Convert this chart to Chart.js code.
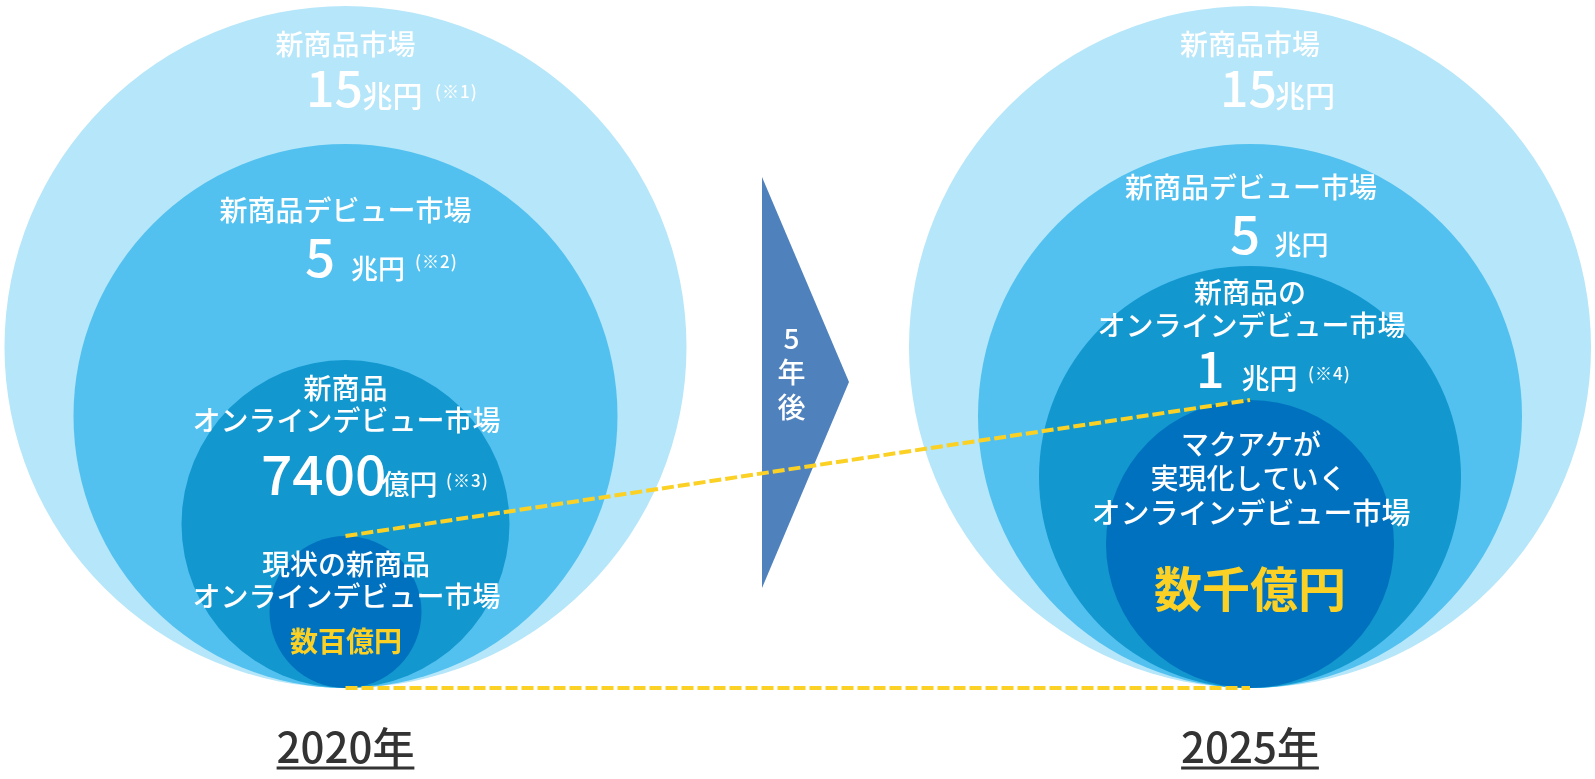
<!DOCTYPE html>
<html>
<head>
<meta charset="utf-8">
<script src="https://cdn.jsdelivr.net/npm/chart.js@4/dist/chart.umd.min.js"></script>
<style>
  html, body { margin: 0; padding: 0; background: #ffffff; }
  canvas { display: block; }
</style>
</head>
<body>
<canvas id="market" width="1595" height="779"></canvas>
<script>
// market rings, outermost first
const years = ['2020年', '2025年'];
const ringNames = ['新商品市場', '新商品デビュー市場', 'オンラインデビュー市場', '現状の市場'];
const radius2020 = [341, 272, 164, 76];
const radius2025 = [341, 272, 211, 144];
const ringColors = ['#b6e6f9', '#52c1ef', '#1297cf', '#0071bf'];

const YEAR_X = [345.5, 1250];
const BASE_Y = 688;
const YELLOW = '#fbd126';
const FONT = '"Noto Sans CJK JP", "Noto Sans", sans-serif';

// lower order is painted later, so the inner rings get the small numbers
const ringDatasets = ringNames.map((name, i) => ({
  type: 'bubble',
  label: name,
  order: ringNames.length - i,
  clip: false,
  data: [
    { x: YEAR_X[0], y: BASE_Y - radius2020[i], r: radius2020[i] },
    { x: YEAR_X[1], y: BASE_Y - radius2025[i], r: radius2025[i] }
  ],
  backgroundColor: ringColors[i],
  borderWidth: 0,
  hoverRadius: 0
}));

// dashed connectors between the innermost rings (top and bottom)
const inner = ringNames.length - 1;
const dashTop = [
  { x: YEAR_X[0], y: BASE_Y - 2 * radius2020[inner] },
  { x: YEAR_X[1], y: BASE_Y - 2 * radius2025[inner] }
];
const dashBottom = [
  { x: YEAR_X[0], y: BASE_Y },
  { x: YEAR_X[1], y: BASE_Y }
];

function dashLine(data) {
  return {
    type: 'line',
    order: 0,
    clip: false,
    data: data,
    borderColor: YELLOW,
    borderWidth: 4,
    borderDash: [12, 4],
    borderCapStyle: 'butt',
    pointRadius: 0,
    fill: false
  };
}

const W = '#ffffff';
const labels = [
  // 2020
  { t: '新商品市場', x: 345.5, y: 44.5, s: 28 },
  { t: '15', x: 306, y: 107, s: 50, a: 'left', b: 'alphabetic' },
  { t: '兆円', x: 362.5, y: 107, s: 30, a: 'left', b: 'alphabetic' },
  { t: '(※1)', x: 435, y: 91.5, s: 17, a: 'left', ls: '1px' },
  { t: '新商品デビュー市場', x: 345.5, y: 210, s: 28 },
  { t: '5', x: 305, y: 277, s: 53, a: 'left', b: 'alphabetic' },
  { t: '兆円', x: 351, y: 278.5, s: 27, a: 'left', b: 'alphabetic' },
  { t: '(※2)', x: 415, y: 262, s: 17, a: 'left', ls: '1px' },
  { t: '新商品', x: 345.5, y: 388, s: 28 },
  { t: 'オンラインデビュー市場', x: 346.5, y: 420, s: 28 },
  { t: '7400', x: 261, y: 495, s: 55, a: 'left', b: 'alphabetic' },
  { t: '億円', x: 381.5, y: 495, s: 28, a: 'left', b: 'alphabetic' },
  { t: '(※3)', x: 446, y: 480.5, s: 17, a: 'left', ls: '1px' },
  { t: '現状の新商品', x: 346, y: 564, s: 28 },
  { t: 'オンラインデビュー市場', x: 346.5, y: 596, s: 28 },
  { t: '数百億円', x: 346, y: 641, s: 28, w: 'bold', c: YELLOW },
  // 2025
  { t: '新商品市場', x: 1250, y: 44.5, s: 28 },
  { t: '15', x: 1220, y: 107, s: 50, a: 'left', b: 'alphabetic' },
  { t: '兆円', x: 1275, y: 107, s: 30, a: 'left', b: 'alphabetic' },
  { t: '新商品デビュー市場', x: 1251, y: 187.5, s: 28 },
  { t: '5', x: 1230, y: 254, s: 53, a: 'left', b: 'alphabetic' },
  { t: '兆円', x: 1274.5, y: 255, s: 27, a: 'left', b: 'alphabetic' },
  { t: '新商品の', x: 1250, y: 292, s: 28 },
  { t: 'オンラインデビュー市場', x: 1251.5, y: 325, s: 28 },
  { t: '1', x: 1196, y: 387.5, s: 50, a: 'left', b: 'alphabetic' },
  { t: '兆円', x: 1241.5, y: 389, s: 28, a: 'left', b: 'alphabetic' },
  { t: '(※4)', x: 1308, y: 374, s: 17, a: 'left', ls: '1px' },
  { t: 'マクアケが', x: 1251, y: 444.5, s: 28 },
  { t: '実現化していく', x: 1248.5, y: 478, s: 28 },
  { t: 'オンラインデビュー市場', x: 1251, y: 513, s: 29 },
  { t: '数千億円', x: 1250, y: 589, s: 48, w: 'bold', c: YELLOW },
  // arrow
  { t: '5', x: 791.5, y: 338, s: 28 },
  { t: '年', x: 791.5, y: 372, s: 28 },
  { t: '後', x: 791.5, y: 407, s: 28 }
];

const overlay = {
  id: 'overlay',
  beforeDatasetsDraw(chart) {
    const { ctx, scales: { x, y } } = chart;
    // "5年後" arrow
    ctx.save();
    ctx.fillStyle = '#4f81bd';
    ctx.beginPath();
    ctx.moveTo(x.getPixelForValue(762), y.getPixelForValue(177));
    ctx.lineTo(x.getPixelForValue(849), y.getPixelForValue(382));
    ctx.lineTo(x.getPixelForValue(762), y.getPixelForValue(588));
    ctx.closePath();
    ctx.fill();
    ctx.restore();
  },
  afterDatasetsDraw(chart) {
    const { ctx, scales: { x, y } } = chart;
    ctx.save();
    labels.forEach(l => {
      ctx.font = `${l.w || '500'} ${l.s}px ${FONT}`;
      ctx.fillStyle = l.c || W;
      ctx.textAlign = l.a || 'center';
      ctx.textBaseline = l.b || 'middle';
      ctx.letterSpacing = l.ls || '0px';
      ctx.fillText(l.t, x.getPixelForValue(l.x), y.getPixelForValue(l.y));
    });
    ctx.letterSpacing = '0px';

    // year captions, underlined
    ctx.font = `500 42px ${FONT}`;
    ctx.fillStyle = '#333333';
    ctx.strokeStyle = '#333333';
    ctx.textAlign = 'center';
    ctx.textBaseline = 'alphabetic';
    years.forEach((yr, i) => {
      const px = x.getPixelForValue(YEAR_X[i]);
      const py = y.getPixelForValue(763);
      ctx.fillText(yr, px, py);
      const wdt = ctx.measureText(yr).width;
      ctx.lineWidth = 3;
      ctx.beginPath();
      ctx.moveTo(px - wdt / 2, py + 5);
      ctx.lineTo(px + wdt / 2, py + 5);
      ctx.stroke();
    });
    ctx.restore();
  }
};

new Chart(document.getElementById('market'), {
  type: 'bubble',
  data: {
    datasets: [dashLine(dashTop), dashLine(dashBottom)].concat(ringDatasets)
  },
  options: {
    responsive: false,
    animation: false,
    events: [],
    layout: { padding: 0, autoPadding: false },
    plugins: { legend: { display: false }, tooltip: { enabled: false } },
    scales: {
      x: { type: 'linear', min: 0, max: 1595, display: false },
      y: { type: 'linear', min: 0, max: 779, reverse: true, display: false }
    }
  },
  plugins: [overlay]
});
</script>
</body>
</html>
